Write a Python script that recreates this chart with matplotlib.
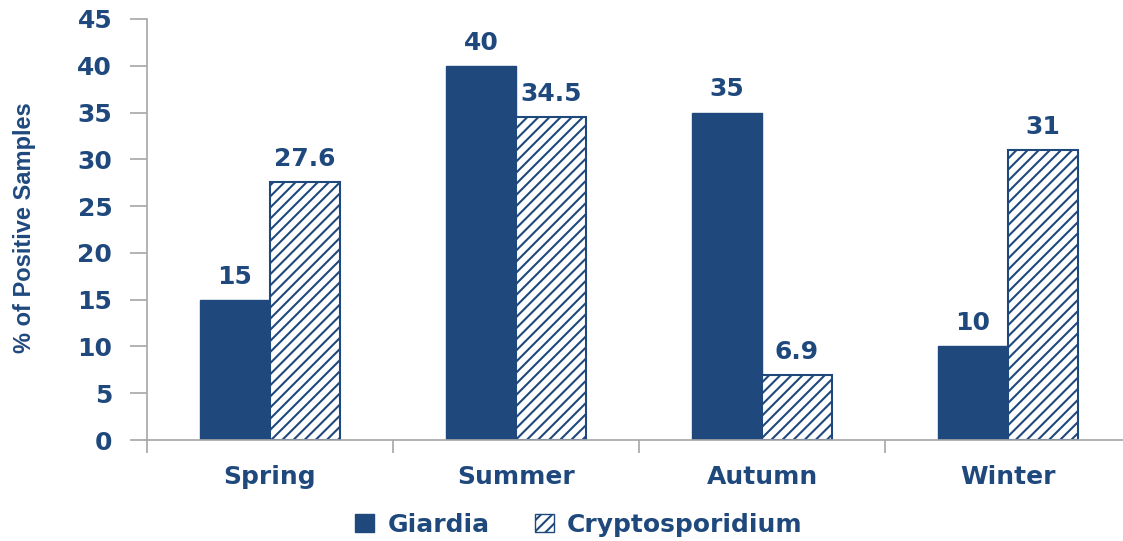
import matplotlib
matplotlib.use("Agg")
import matplotlib.pyplot as plt
import numpy as np
from matplotlib.patches import Patch

seasons = ["Spring", "Summer", "Autumn", "Winter"]
giardia = [15, 40, 35, 10]
crypto = [27.6, 34.5, 6.9, 31]
giardia_labels = ["15", "40", "35", "10"]
crypto_labels = ["27.6", "34.5", "6.9", "31"]
yticks = [0, 5, 10, 15, 20, 25, 30, 35, 40, 45]

BLUE = "#1F497D"
GRAY = "#A6A6A6"
plt.rcParams["hatch.linewidth"] = 1.5
plt.rcParams["hatch.color"] = BLUE

fig = plt.figure(figsize=(11.23, 5.41), dpi=100)
ax = fig.add_axes([147/1123, 101/541, (1131-147)/1123, (440-19)/541])

x = np.arange(len(seasons))
w = 0.285
b1 = ax.bar(x - w/2, giardia, w, color=BLUE, edgecolor=BLUE, linewidth=1)
b2 = ax.bar(x + w/2, crypto, w, color="white", edgecolor=BLUE, hatch="///", linewidth=1.5)

font = "DejaVu Sans"
FS = 18
for bars, labels in ((b1, giardia_labels), (b2, crypto_labels)):
    for rect, lab in zip(bars, labels):
        ax.annotate(lab, (rect.get_x() + rect.get_width()/2, rect.get_height()),
                    xytext=(0, 8), textcoords="offset points", ha="center", va="bottom",
                    fontsize=FS, fontweight="bold", color=BLUE, family=font)

ax.set_xlim(-0.5, len(seasons) - 0.5)
ax.set_ylim(0, 45)
ax.set_yticks(yticks)
ax.set_yticklabels([str(v) for v in yticks], fontsize=FS, fontweight="bold", color=BLUE, family=font)
ax.set_xticks(x)
ax.set_xticklabels(seasons, fontsize=FS, fontweight="bold", color=BLUE, family=font)
ax.tick_params(axis="x", which="major", length=0, pad=18)
ax.set_xticks(np.arange(-0.5, len(seasons)), minor=True)
ax.tick_params(axis="x", which="minor", length=9, color=GRAY, width=1.2)
ax.tick_params(axis="y", length=12, color=GRAY, width=1.2, pad=13)

for s in ["top", "right"]:
    ax.spines[s].set_visible(False)
for s in ["left", "bottom"]:
    ax.spines[s].set_color(GRAY)
    ax.spines[s].set_linewidth(1.2)

fig.text(25/1123, 1 - 228/541, "% of Positive Samples", rotation=90, ha="center", va="center",
         fontsize=17, fontweight="bold", color=BLUE, family="Liberation Sans")

handles = [Patch(facecolor=BLUE, edgecolor=BLUE),
           Patch(facecolor="white", edgecolor=BLUE, hatch="///")]
leg = fig.legend(handles, ["Giardia", "Cryptosporidium"], loc="center", bbox_to_anchor=(579/1123, 1 - 525/541),
                 ncol=2, frameon=False, handlelength=0.75, handleheight=0.75, handletextpad=0.55,
                 columnspacing=1.8, prop={"size": FS, "weight": "bold", "family": font})
for t in leg.get_texts():
    t.set_color(BLUE)

fig.savefig("out.png", dpi=100)
